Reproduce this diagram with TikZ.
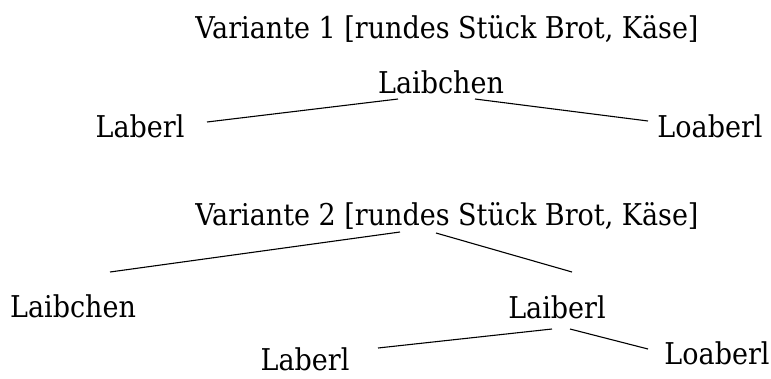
\documentclass[tikz,border=0pt]{standalone}
\usepackage{fontspec}
\setmainfont{DejaVu Serif Condensed}
\usetikzlibrary{calc}
\begin{document}
\begin{tikzpicture}[x=1pt,y=-1pt,
  word/.style={anchor=base,inner sep=0pt,font=\fontsize{30}{36}\selectfont},
  edge/.style={line width=1.1pt}]
\useasboundingbox (0,0) rectangle (771,378);
% first variant
\node[word] (t1)    at (447,38)  {Variante 1 [rundes Stück Brot, Käse]};
\node[word] (laib1) at (441,93)  {Laibchen};
\node[word] (lab1)  at (140,137) {Laberl};
\node[word] (loa1)  at (710,137) {Loaberl};
\draw[edge] ($(laib1.base)+(-43,6)$) -- ($(lab1.base)+(67,-15)$);
\draw[edge] ($(laib1.base)+(34,6)$)  -- ($(loa1.base)+(-62,-16)$);
% second variant
\node[word] (t2)    at (447,225) {Variante 2 [rundes Stück Brot, Käse]};
\node[word] (laib2) at (73,317)  {Laibchen};
\node[word] (lai)   at (557,318) {Laiberl};
\node[word] (lab2)  at (305,370) {Laberl};
\node[word] (loa2)  at (717,364) {Loaberl};
\draw[edge] ($(t2.base)+(-47,7)$)  -- ($(laib2.base)+(37,-45)$);
\draw[edge] ($(t2.base)+(-11,8)$)  -- ($(lai.base)+(15,-46)$);
\draw[edge] ($(lai.base)+(-5,11)$) -- ($(lab2.base)+(73,-22)$);
\draw[edge] ($(lai.base)+(13,11)$) -- ($(loa2.base)+(-69,-15)$);
\end{tikzpicture}
\end{document}
